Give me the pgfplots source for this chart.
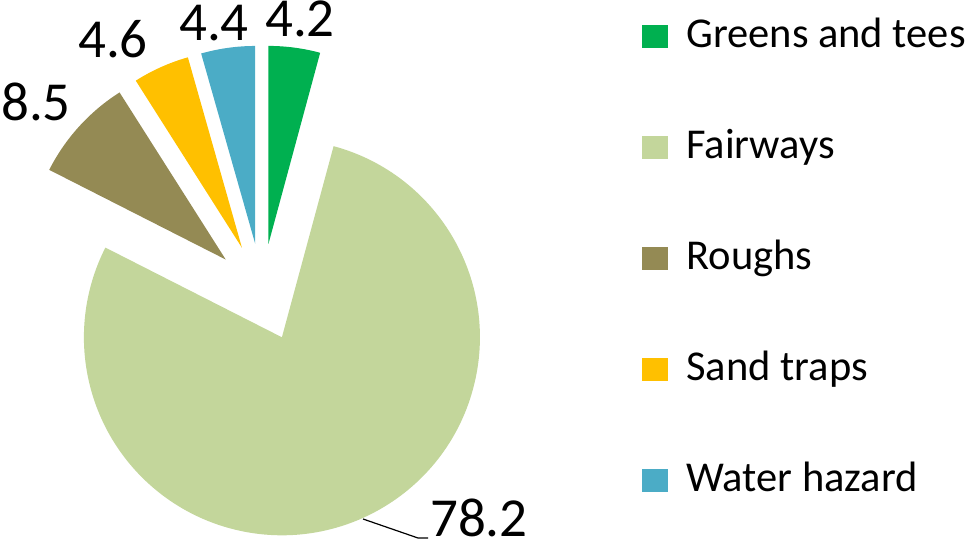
\documentclass[border=0pt]{standalone}
\usepackage{pgfplots}
\pgfplotsset{compat=1.18}
\usepackage{pgfplotstable}
\usepackage{fontspec}
\setmainfont{Carlito}

\definecolor{cGreen}{RGB}{0,176,80}
\definecolor{cFair}{RGB}{195,214,155}
\definecolor{cRough}{RGB}{148,138,84}
\definecolor{cSand}{RGB}{255,192,0}
\definecolor{cWater}{RGB}{75,172,198}

\pgfplotstableread[col sep=comma]{
name,value
Greens and tees,4.2
Fairways,78.2
Roughs,8.5
Sand traps,4.6
Water hazard,4.4
}\piedata

\def\R{198}   % radius
\def\ex{49}   % explode distance
\def\cx{262}  % pie centre
\def\cy{251.5}

\newcommand\slice[2]{%
  \fill[#2] (axis cs:\csname px#1\endcsname,\csname py#1\endcsname)
     -- ++(\csname a#1\endcsname:\R pt)
     arc[start angle=\csname a#1\endcsname, end angle=\csname b#1\endcsname, radius=\R pt]
     -- cycle;}

\tikzset{vlabel/.style={inner sep=0pt, text height=34pt, text depth=0pt, font=\fontsize{55}{55}\selectfont}}

\begin{document}
\begin{tikzpicture}
\gdef\total{0}%
\foreach \i in {0,...,4}{%
  \pgfplotstablegetelem{\i}{value}\of\piedata
  \pgfmathsetmacro\ttot{\total+\pgfplotsretval}%
  \xdef\total{\ttot}%
}%
\gdef\cum{0}%
\foreach \i in {0,...,4}{%
  \pgfplotstablegetelem{\i}{value}\of\piedata
  \expandafter\xdef\csname v\i\endcsname{\pgfplotsretval}%
  \pgfmathsetmacro\ta{90-(360/\total)*\cum}%
  \pgfmathsetmacro\nc{\cum+\pgfplotsretval}%
  \xdef\cum{\nc}%
  \pgfmathsetmacro\tb{90-(360/\total)*\cum}%
  \pgfmathsetmacro\tm{(\ta+\tb)/2}%
  \pgfmathsetmacro\tx{\cx+\ex*cos(\tm)}%
  \pgfmathsetmacro\ty{\cy+\ex*sin(\tm)}%
  \expandafter\xdef\csname a\i\endcsname{\ta}%
  \expandafter\xdef\csname b\i\endcsname{\tb}%
  \expandafter\xdef\csname px\i\endcsname{\tx}%
  \expandafter\xdef\csname py\i\endcsname{\ty}%
}%
\begin{axis}[
  at={(0,0)}, anchor=south west,
  x=1pt, y=1pt,
  xmin=0, xmax=969, ymin=0, ymax=544,
  hide axis, clip=false,
  legend cell align=left,
  legend style={draw=none, fill=none, at={(0.6625,0.9724)}, anchor=north west,
    inner sep=0pt, outer sep=0pt, row sep=69pt, column sep=19pt,
    font=\fontsize{42.5}{50}\selectfont,
    nodes={inner sep=0pt, outer sep=0pt, text height=32pt, text depth=10pt}},
]
\slice{0}{cGreen}
\slice{1}{cFair}
\slice{2}{cRough}
\slice{3}{cSand}
\slice{4}{cWater}

\addlegendimage{legend image code/.code={\fill[cGreen] (0pt,-11pt) rectangle (25pt,11pt);}}
\addlegendentry{Greens and tees}
\addlegendimage{legend image code/.code={\fill[cFair] (0pt,-11pt) rectangle (25pt,11pt);}}
\addlegendentry{Fairways}
\addlegendimage{legend image code/.code={\fill[cRough] (0pt,-11pt) rectangle (25pt,11pt);}}
\addlegendentry{Roughs}
\addlegendimage{legend image code/.code={\fill[cSand] (0pt,-11pt) rectangle (25pt,11pt);}}
\addlegendentry{Sand traps}
\addlegendimage{legend image code/.code={\fill[cWater] (0pt,-11pt) rectangle (25pt,11pt);}}
\addlegendentry{Water hazard}

\draw[black, line width=1.2pt] (axis cs:363,25) -- (axis cs:418,6) -- (axis cs:428,6);
\node[vlabel, anchor=base west] at (axis cs:430,7.5) {\csname v1\endcsname};
\node[vlabel, anchor=base] at (axis cs:300,507) {\csname v0\endcsname};
\node[vlabel, anchor=base] at (axis cs:214,503) {\csname v4\endcsname};
\node[vlabel, anchor=base] at (axis cs:113,486) {\csname v3\endcsname};
\node[vlabel, anchor=base] at (axis cs:36,423) {\csname v2\endcsname};
\end{axis}
\pgfresetboundingbox
\path[use as bounding box] (0,0) rectangle (969pt,544pt);
\end{tikzpicture}
\end{document}
